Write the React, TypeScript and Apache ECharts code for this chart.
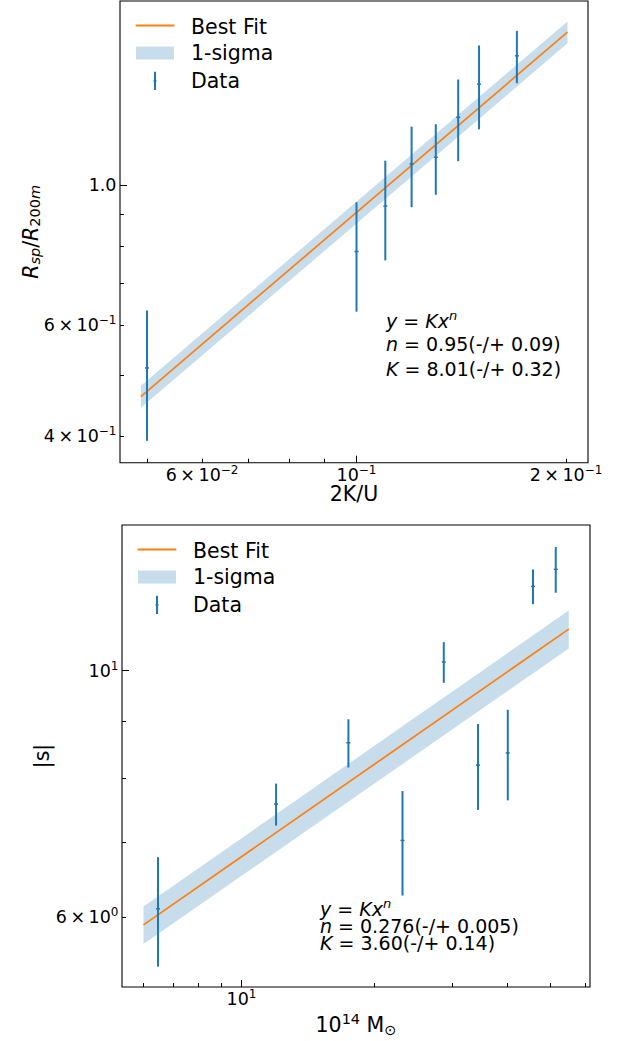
import React, { useEffect, useRef } from 'react';
import * as echarts from 'echarts';

const FONT = 'DejaVu Sans';
const BLUE = '#1f77b4';
const ORANGE = '#ff7f0e';
const BAND = 'rgba(31,119,180,0.25)';

// ---------- Top panel (R_sp/R_200m vs 2K/U) ----------
const topX = [0.05, 0.10, 0.11, 0.12, 0.13, 0.14, 0.15, 0.17];
const topY = [0.513, 0.785, 0.927, 1.081, 1.108, 1.282, 1.447, 1.605];
const topErr = [0.12, 0.155, 0.167, 0.158, 0.142, 0.19, 0.22, 0.153];
const topFitX = [0.049, 0.201];
const topFitY = [0.462, 1.75];
const topBandLow = [0.4435, 1.68];
const topBandHigh = [0.4805, 1.82];
const topXRange = [0.04573, 0.2151];
const topYRange = [0.3628, 1.961];
const topXMajorTicks = [0.1];
const topXMinorTicks = [0.05, 0.06, 0.07, 0.08, 0.09, 0.2];
const topXTickValues = [0.06, 0.1, 0.2];
const topXTickLabels = ['6 × 10^−2', '10^−1', '2 × 10^−1'];
const topYMajorTicks = [1];
const topYMinorTicks = [0.4, 0.5, 0.6, 0.7, 0.8, 0.9];
const topYTickValues = [0.4, 0.6, 1];
const topYTickLabels = ['4 × 10^−1', '6 × 10^−1', '1.0'];
const topFitText = ['0.95(-/+ 0.09)', '8.01(-/+ 0.32)'];

// ---------- Bottom panel (|s| vs mass) ----------
const botX = [6.47, 11.97, 17.45, 23.13, 28.68, 34.28, 40.03, 45.65, 51.4];
const botY = [6.10, 7.58, 8.61, 7.03, 10.18, 8.22, 8.43, 11.91, 12.34];
const botErr = [0.69, 0.33, 0.43, 0.76, 0.43, 0.73, 0.79, 0.43, 0.585];
const botFitX = [6.0, 55.0];
const botFitY = [5.90, 10.90];
const botBandLow = [5.67, 10.47];
const botBandHigh = [6.13, 11.33];
const botXRange = [5.364, 61.44];
const botYRange = [5.186, 13.53];
const botXMajorTicks = [10];
const botXMinorTicks = [6, 7, 8, 9, 20, 30, 40, 50, 60];
const botXTickValues = [10];
const botXTickLabels = ['10^1'];
const botYMajorTicks = [10];
const botYMinorTicks = [6, 7, 8, 9];
const botYTickValues = [6, 10];
const botYTickLabels = ['6 × 10^0', '10^1'];
const botFitText = ['0.276(-/+ 0.005)', '3.60(-/+ 0.14)'];

const legendLabels = ['Best Fit', '1-sigma', 'Data'];

const tickRich = {
  b: { fontFamily: FONT, fontSize: 17.5, color: '#000', lineHeight: 18 },
  s: { fontFamily: FONT, fontSize: 12, color: '#000', height: 8, lineHeight: 8, verticalAlign: 'top' },
};

const toRich = (t: string) => {
  const parts = t.split('^');
  const base = parts[0].replace(' × ', '\u2009×\u2009');
  return parts.length > 1 ? `{b|${base}}{s|${parts[1]}}` : `{b|${base}}`;
};

const fmt = (vals: number[], labels: string[]) => (v: number) => {
  const i = vals.findIndex((u) => Math.abs(u - v) <= 1e-6 * Math.abs(u));
  return i >= 0 ? toRich(labels[i]) : '';
};

const nameRichTopY = {
  i: { fontFamily: FONT, fontSize: 20.5, fontStyle: 'italic', color: '#000', lineHeight: 23 },
  n: { fontFamily: FONT, fontSize: 20.5, color: '#000', lineHeight: 23 },
  isub: { fontFamily: FONT, fontSize: 14.5, fontStyle: 'italic', color: '#000', lineHeight: 14.5, verticalAlign: 'bottom' },
  sub: { fontFamily: FONT, fontSize: 14.5, color: '#000', lineHeight: 14.5, verticalAlign: 'bottom' },
};
const nameRichX = {
  b: { fontFamily: FONT, fontSize: 20.5, color: '#000', lineHeight: 26 },
  s: { fontFamily: FONT, fontSize: 14.5, color: '#000', lineHeight: 14.5, verticalAlign: 'top' },
  sub: { fontFamily: FONT, fontSize: 14.5, color: '#000', lineHeight: 14.5, verticalAlign: 'bottom' },
};

function makeAxes(
  dim: 'x' | 'y', gridIndex: number, range: number[], major: number[], minor: number[],
  labelVals: number[], labelTexts: string[], name: string, nameGap: number, nameRich: any,
) {
  const position = dim === 'x' ? 'bottom' : 'left';
  const tickStyle = { color: '#000', width: 1 };
  const main: any = {
    type: 'log', logBase: 10, gridIndex, min: range[0], max: range[1], position,
    axisLine: { show: false, onZero: false },
    axisTick: { show: true, inside: true, length: 7, lineStyle: tickStyle, customValues: major },
    axisLabel: {
      show: true, margin: dim === 'x' ? 3 : 3.5, customValues: labelVals,
      formatter: fmt(labelVals, labelTexts), rich: tickRich,
    },
    splitLine: { show: false },
    minorTick: { show: false },
    minorSplitLine: { show: false },
    name, nameLocation: 'middle', nameGap, nameRotate: dim === 'x' ? 0 : 90,
    nameMoveOverlap: false,
    nameTextStyle: { rich: nameRich, fontFamily: FONT, fontSize: 20.5, color: '#000', lineHeight: 20 },
  };
  const minorAxis: any = {
    type: 'log', logBase: 10, gridIndex, min: range[0], max: range[1], position,
    axisLine: { show: false, onZero: false },
    axisTick: { show: true, inside: true, length: 4, lineStyle: tickStyle, customValues: minor },
    axisLabel: { show: false },
    splitLine: { show: false },
  };
  return [main, minorAxis];
}

const errorRender = (params: any, api: any) => {
  const x = api.value(0);
  const y = api.value(1);
  const e = api.value(2);
  const top = api.coord([x, y + e]);
  const bot = api.coord([x, y - e]);
  const mid = api.coord([x, y]);
  return {
    type: 'group',
    children: [
      { type: 'line', shape: { x1: top[0], y1: top[1], x2: bot[0], y2: bot[1] }, style: { stroke: BLUE, lineWidth: 2 } },
      { type: 'rect', shape: { x: mid[0] - 2, y: mid[1] - 0.75, width: 4, height: 1.5 }, style: { fill: BLUE } },
    ],
  };
};

const bandRender = (xs: number[], lo: number[], hi: number[]) => (params: any, api: any) => {
  const pts: number[][] = [];
  for (let i = 0; i < xs.length; i++) pts.push(api.coord([xs[i], hi[i]]));
  for (let i = xs.length - 1; i >= 0; i--) pts.push(api.coord([xs[i], lo[i]]));
  return { type: 'polygon', shape: { points: pts }, style: { fill: BAND } };
};

function panelSeries(axisIndex: number, xs: number[], ys: number[], errs: number[], fx: number[], fy: number[], lo: number[], hi: number[]) {
  return [
    {
      type: 'custom', xAxisIndex: axisIndex, yAxisIndex: axisIndex, z: 1,
      renderItem: bandRender(fx, lo, hi), data: [[fx[0], fy[0]]], silent: true,
    },
    {
      type: 'line', xAxisIndex: axisIndex, yAxisIndex: axisIndex, z: 2,
      data: fx.map((x, i) => [x, fy[i]]), showSymbol: false, symbol: 'none',
      lineStyle: { color: ORANGE, width: 1.7 }, silent: true,
    },
    {
      type: 'custom', xAxisIndex: axisIndex, yAxisIndex: axisIndex, z: 3,
      renderItem: errorRender, encode: { x: 0, y: 1 },
      data: xs.map((x, i) => [x, ys[i], errs[i]]), silent: true,
    },
  ];
}

function legendGroup(ox: number, oy: number) {
  const txt = (t: string, y: number) => ({
    type: 'text', x: 71, y,
    style: { text: t, fontFamily: FONT, fontSize: 20.5, fill: '#000', verticalAlign: 'middle', align: 'left' },
  });
  return {
    type: 'group', x: ox, y: oy,
    children: [
      { type: 'line', shape: { x1: 15.7, y1: 24.5, x2: 54.3, y2: 24.5 }, style: { stroke: ORANGE, lineWidth: 1.8 } },
      { type: 'rect', shape: { x: 16, y: 45.5, width: 38, height: 13 }, style: { fill: BAND } },
      { type: 'line', shape: { x1: 35, y1: 70.7, x2: 35, y2: 89 }, style: { stroke: BLUE, lineWidth: 2 } },
      { type: 'rect', shape: { x: 33.5, y: 79.2, width: 3, height: 1.5 }, style: { fill: BLUE } },
      txt(legendLabels[0], 25.7),
      txt(legendLabels[1], 52.3),
      txt(legendLabels[2], 79.8),
    ],
  };
}

function annRich(lineH: number) {
  const supH = lineH - 11;
  return {
    n: { fontFamily: FONT, fontSize: 19, fill: '#000', lineHeight: lineH },
    i: { fontFamily: FONT, fontSize: 19, fontStyle: 'italic', fill: '#000', lineHeight: lineH },
    is: { fontFamily: FONT, fontSize: 13, fontStyle: 'italic', fill: '#000', height: supH, lineHeight: supH, verticalAlign: 'top' },
  };
}

function annotation(x: number, ys: number[], fitText: string[], lineH: number) {
  const lines = [
    '{i|y}{n| = }{i|Kx}{is|n}',
    `{i|n}{n| = ${fitText[0]}}`,
    `{i|K}{n| = ${fitText[1]}}`,
  ];
  const rich = annRich(lineH);
  return lines.map((t, k) => ({
    type: 'text', x, y: ys[k],
    style: { text: t, rich, fontFamily: FONT, fontSize: 19, fill: '#000', verticalAlign: 'middle', align: 'left' },
  }));
}

function buildOption(): any {
  const xAxes = [
    ...makeAxes('x', 0, topXRange, topXMajorTicks, topXMinorTicks, topXTickValues, topXTickLabels, '2K/U', 21.3, nameRichX),
    ...makeAxes('x', 1, botXRange, botXMajorTicks, botXMinorTicks, botXTickValues, botXTickLabels,
      '{b|10}{s|14}{b| M}{sub|⊙}', 24.5, nameRichX),
  ];
  const yAxes = [
    ...makeAxes('y', 0, topYRange, topYMajorTicks, topYMinorTicks, topYTickValues, topYTickLabels,
      '{i|R}{isub|sp}{n|/}{i|R}{sub|200}{isub|m}', 78, nameRichTopY),
    ...makeAxes('y', 1, botYRange, botYMajorTicks, botYMinorTicks, botYTickValues, botYTickLabels, '|s|', 70, nameRichX),
  ];
  const gridBase = { show: true, borderColor: '#000', borderWidth: 1.1, backgroundColor: 'transparent', containLabel: false, outerBoundsMode: 'none' };
  return {
    animation: false,
    backgroundColor: '#fff',
    grid: [
      { ...gridBase, left: 120, top: 1, width: 468, height: 461.7 },
      { ...gridBase, left: 122, top: 525, width: 468, height: 462 },
    ],
    xAxis: xAxes,
    yAxis: yAxes,
    series: [
      ...panelSeries(0, topX, topY, topErr, topFitX, topFitY, topBandLow, topBandHigh),
      ...panelSeries(2, botX, botY, botErr, botFitX, botFitY, botBandLow, botBandHigh),
    ],
    graphic: [
      legendGroup(120, 1),
      legendGroup(122, 525),
      ...annotation(386, [321, 344, 368.5], topFitText, 23),
      ...annotation(320, [909, 926, 942.7], botFitText, 16.5),
    ],
  };
}

export default function App() {
  const ref = useRef<HTMLDivElement>(null);
  useEffect(() => {
    if (!ref.current) return;
    const chart = echarts.init(ref.current, null, { renderer: 'svg' });
    chart.setOption(buildOption());
    return () => chart.dispose();
  }, []);
  return (
    <div
      ref={ref}
      style={{ position: 'absolute', left: 0, top: 0, width: 624, height: 1041, background: '#fff' }}
    />
  );
}
